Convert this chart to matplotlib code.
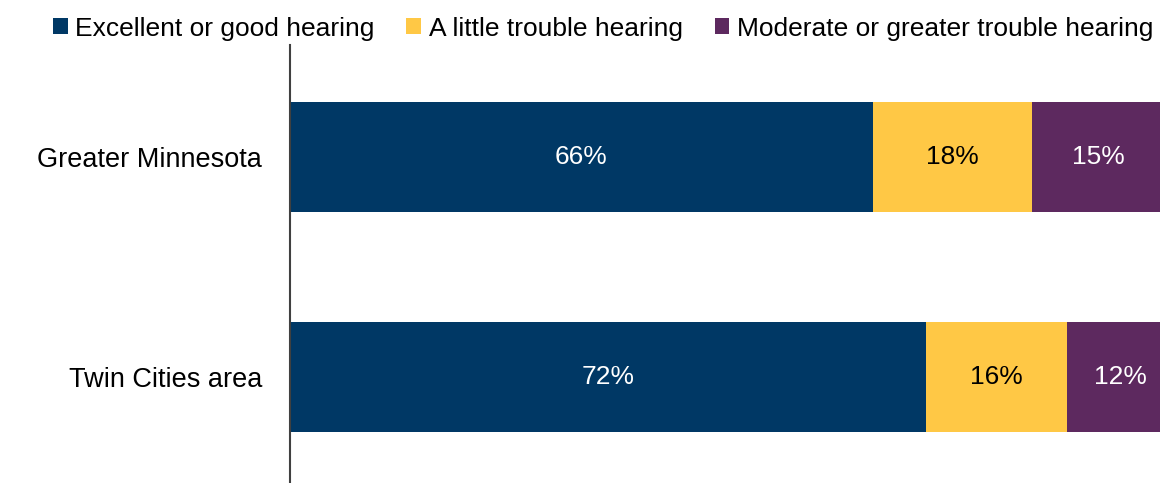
import numpy as np
import matplotlib.pyplot as plt

plt.rcParams['font.family'] = ['Liberation Sans', 'DejaVu Sans']

regions = ["Twin Cities area", "Greater Minnesota"]
categories = ["Excellent or good hearing", "A little trouble hearing",
              "Moderate or greater trouble hearing"]
excellent = [72, 66]
little = [16, 18]
moderate = [12, 15]

colors = ["#003865", "#FFC845", "#5D295F"]
text_colors = ["white", "black", "white"]

fig = plt.figure(figsize=(11.6, 4.83), dpi=100)
ax = fig.add_axes([0.25, 0.0, 0.75, 0.9068])

y = np.arange(len(regions))
left = np.zeros(len(regions))
for vals, name, c, tc in zip([excellent, little, moderate], categories, colors, text_colors):
    vals = np.array(vals, dtype=float)
    ax.barh(y, vals, left=left, height=0.5, color=c, label=name)
    for yi, l, v in zip(y, left, vals):
        ax.text(l + v / 2, yi, f"{v:.0f}%", ha="center", va="center",
                color=tc, fontsize=19)
    left += vals

ax.set_xlim(0, 98.5)
ax.set_ylim(-0.48, 1.51)
ax.set_yticks(y)
ax.set_yticklabels(regions, fontsize=19.5)
ax.tick_params(axis="y", length=0, pad=20)
ax.set_xticks([])
for s in ["top", "right", "bottom"]:
    ax.spines[s].set_visible(False)
ax.spines["left"].set_color("#404040")
ax.spines["left"].set_linewidth(1.5)

fig.legend(loc="upper center", bbox_to_anchor=(0.52, 1.015), ncol=3, frameon=False,
           fontsize=19, handlelength=0.55, handleheight=0.55, handletextpad=0.3,
           columnspacing=1.2)

fig.savefig("out.png", dpi=100)
